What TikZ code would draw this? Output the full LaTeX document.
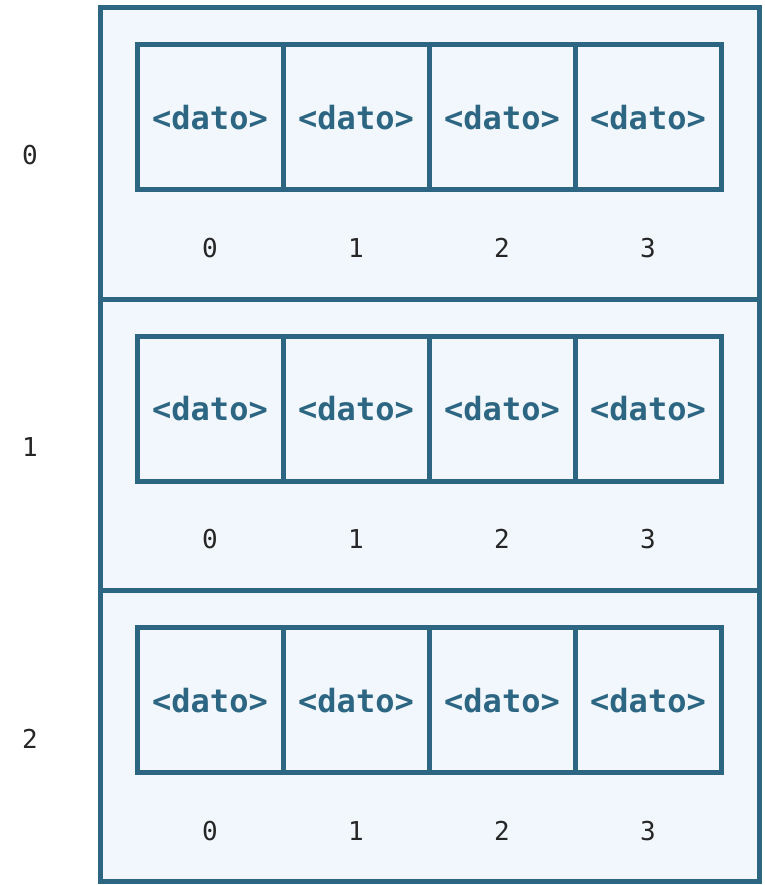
\documentclass[tikz,border=0pt]{standalone}
\usepackage{fontspec}
\setmonofont{DejaVu Sans Mono}
\definecolor{marco}{HTML}{2D6683}
\definecolor{fondo}{HTML}{F1F7FD}

\begin{document}
\begin{tikzpicture}[x=1pt,y=-1pt,
    fila/.style={draw=marco,fill=fondo,line width=5pt,minimum width=659pt,minimum height=291.3pt,inner sep=0pt},
    celda/.style={draw=marco,line width=5pt,minimum width=146pt,minimum height=145pt,inner sep=0pt,text=marco,font=\ttfamily\bfseries\fontsize{32}{32}\selectfont},
    indice/.style={font=\ttfamily\fontsize{26}{26}\selectfont,text=black!85}]
                        \useasboundingbox (0,0) rectangle (764,885);
                        \foreach \r in {0,1,2} {
                            \node[fila] (fila\r) at (429.5,{8+291.3*\r+145.65}) {};
                            \node[indice] (nfila\r) at (30,{155+292*\r}) {\r};
                        }
                        \foreach \r in {0,1,2} {
                            \foreach \c in {0,1,2,3} {
                                \node[celda] (celda\r\c) at ({210+146*\c},{8+291.3*\r+109.5}) {<dato>};
                                \node[indice] (idx\r\c) at ({210+146*\c},{248+291.3*\r}) {\c};
                            }
                        }
                    \end{tikzpicture}
\end{document}
